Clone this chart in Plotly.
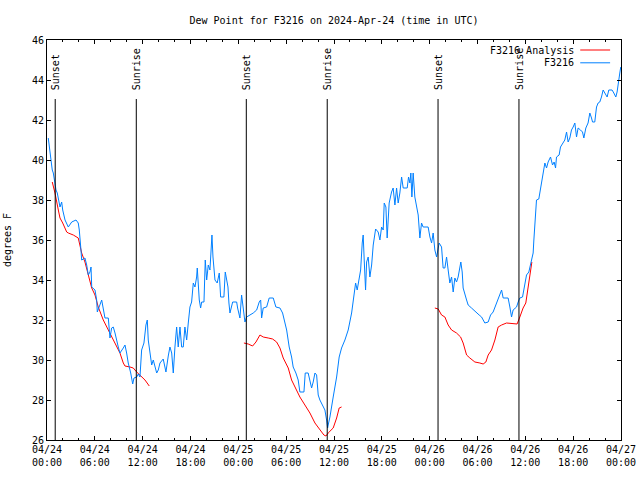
import pandas as pd
import plotly.graph_objects as go

# ---------------- data (hours since 2024-04-24 00:00 UTC, degrees F) ----------------
obs_hours = [
    0.16, 0.25, 0.38, 0.50, 0.66, 0.79, 1.00, 1.13, 1.29, 1.42, 1.63, 1.84, 1.97, 2.26, 2.67,
    3.10, 3.64, 3.92, 4.05, 4.26, 4.35, 4.76, 4.98, 5.18, 5.39, 5.52, 5.61, 6.02, 6.23, 6.31,
    6.56, 6.86, 7.27, 7.69, 7.90, 8.11, 8.31, 8.53, 8.94, 9.15, 9.57, 9.78, 9.99, 10.19, 10.50,
    10.75, 10.91, 11.25, 11.45, 11.66, 11.87, 12.16, 12.41, 12.58, 12.70, 12.92, 13.13, 13.33,
    13.54, 13.76, 13.96, 14.17, 14.58, 14.92, 15.21, 15.42, 15.64, 15.84, 16.05, 16.26, 16.46,
    16.68, 16.89, 17.09, 17.30, 17.52, 17.72, 17.93, 18.14, 18.35, 18.56, 18.77, 18.85, 18.97,
    19.10, 19.27, 19.40, 19.69, 19.85, 20.03, 20.23, 20.44, 20.56, 20.69, 20.82, 21.07, 21.35,
    21.61, 21.78, 22.19, 22.36, 22.53, 22.70, 22.82, 22.95, 23.29, 23.79, 23.91, 24.20, 24.41,
    24.54, 24.83, 25.04, 25.87, 26.30, 26.62, 26.80, 26.92, 27.12, 27.55, 27.87, 28.38, 28.71,
    29.22, 29.55, 29.84, 30.06, 30.38, 30.68, 30.88, 31.22, 31.51, 31.72, 32.23, 32.39, 32.76,
    32.98, 33.19, 33.39, 33.61, 33.82, 34.02, 34.23, 34.57, 34.86, 35.07, 35.20, 35.32, 35.49,
    35.90, 36.33, 36.65, 36.95, 37.37, 37.78, 38.21, 38.50, 38.71, 38.91, 39.16, 39.34, 39.54,
    39.66, 39.79, 39.96, 40.09, 40.29, 40.50, 40.72, 40.92, 41.22, 41.54, 41.76, 41.97, 42.17,
    42.30, 42.51, 42.67, 42.92, 43.22, 43.42, 43.64, 43.85, 44.05, 44.26, 44.48, 44.68, 45.18,
    45.35, 45.52, 45.64, 45.77, 45.93, 46.14, 46.36, 46.56, 46.77, 46.98, 47.18, 47.81, 48.03,
    48.24, 48.44, 48.65, 48.87, 49.19, 49.49, 49.69, 49.91, 50.12, 50.32, 50.53, 50.75, 50.95,
    51.16, 51.37, 51.57, 51.79, 51.91, 52.08, 52.20, 52.63, 52.83, 53.25, 53.88, 54.21, 54.51,
    54.92, 55.34, 55.64, 55.96, 56.39, 56.68, 56.89, 57.02, 57.22, 57.84, 58.06, 58.27, 58.47,
    58.90, 59.10, 59.31, 59.65, 59.94, 60.15, 60.44, 60.69, 60.98, 61.07, 61.28, 61.40, 61.69,
    61.82, 62.03, 62.23, 62.45, 62.66, 62.86, 63.16, 63.41, 63.61, 63.79, 63.91, 64.24, 64.41,
    64.74, 64.95, 65.17, 65.37, 65.58, 65.79, 66.00, 66.21, 66.42, 66.62, 66.92, 67.17, 67.34,
    67.59, 67.87, 68.09, 68.30, 68.43, 68.71, 68.93, 69.13, 69.34, 69.55, 69.76, 69.97, 70.26,
    70.47, 70.88, 71.10, 71.35, 71.51, 71.64, 71.85, 71.97,
]
obs_values = [
    41.1, 40.75, 40.25, 39.9, 39.5, 39.35, 38.85, 38.5, 38.35, 38.0, 37.65, 37.9, 37.5, 37.0, 36.65,
    36.9, 37.0, 36.85, 36.5, 35.5, 35.0, 35.1, 34.75, 34.25, 34.4, 34.65, 33.65, 33.5, 33.0, 32.4,
    32.65, 33.0, 32.1, 32.1, 31.1, 31.6, 31.65, 31.35, 30.65, 30.35, 30.6, 30.75, 30.35, 29.85, 29.35,
    28.8, 29.1, 29.15, 29.3, 29.15, 30.5, 30.85, 31.75, 32.0, 31.0, 30.2, 29.75, 30.0,
    29.65, 29.35, 29.5, 29.85, 30.05, 29.4, 30.2, 30.65, 30.35, 29.35, 30.65, 31.65, 30.65,
    31.65, 30.65, 30.65, 31.65, 31.0, 31.85, 32.65, 32.9, 33.85, 33.65, 34.15, 34.6, 33.75,
    33.0, 32.6, 32.9, 32.9, 35.0, 34.0, 34.75, 34.5, 35.65, 36.25, 35.15, 34.0, 33.85,
    34.35, 33.15, 33.15, 34.4, 34.0, 33.65, 32.85, 32.35, 32.9, 32.9, 32.6, 32.1, 33.25,
    32.85, 31.9, 32.15, 32.35, 32.5, 32.9, 33.0, 32.1, 32.6, 32.65, 33.1, 33.1, 32.65,
    32.6, 32.35, 31.9, 31.5, 30.65, 30.15, 29.65, 29.35, 29.0, 28.4, 28.4, 29.35, 29.35,
    29.0, 28.6, 28.9, 29.35, 29.25, 28.25, 28.0, 27.75, 27.5, 27.0, 26.6, 26.85, 27.15,
    28.15, 29.15, 30.15, 30.6, 31.0, 31.5, 32.35, 33.15, 33.85, 33.5, 34.0, 34.5, 35.85,
    36.25, 35.0, 33.5, 34.9, 35.15, 34.15, 34.75, 35.75, 36.55, 36.4, 36.0, 36.65, 36.5,
    37.85, 37.65, 36.1, 37.85, 38.4, 38.6, 37.75, 38.6, 37.85, 38.35, 39.15, 38.6, 38.6,
    39.15, 38.85, 39.35, 38.15, 39.35, 38.15, 37.75, 37.25, 36.1, 36.85, 36.65, 36.65, 36.15,
    35.85, 36.35, 35.5, 35.15, 35.85, 35.65, 34.6, 34.6, 35.15, 34.5, 33.85, 34.15, 33.4,
    34.1, 33.9, 34.15, 34.65, 34.9, 34.4, 33.6, 33.0, 32.75, 32.6, 32.4, 32.25, 32.15,
    31.85, 31.9, 32.25, 32.4, 32.85, 33.1, 33.4, 33.5, 33.1, 33.1, 32.65, 32.15, 32.5,
    32.65, 32.9, 33.1, 33.15, 33.9, 34.25, 34.4, 34.9, 35.35, 36.0, 37.15, 38.0, 38.05,
    38.35, 38.85, 39.35, 39.85, 39.6, 39.9, 40.15, 39.75, 39.9, 39.6, 40.15, 40.25, 40.65,
    40.9, 41.0, 41.4, 40.9, 41.1, 41.5, 41.65, 41.85, 41.15, 41.6, 41.5, 41.4, 41.1,
    41.6, 41.85, 42.35, 42.1, 41.9, 41.9, 42.65, 42.85, 42.9, 43.15, 43.5, 43.35, 43.15,
    43.5, 43.5, 43.35, 43.15, 43.4, 43.85, 44.35, 44.65,
]

analysis_day1_hours = [0.66, 1.00, 1.42, 1.63, 1.97, 2.47, 2.67, 3.30, 3.92, 4.14, 4.35, 4.76, 5.18,
                       5.61, 6.02, 6.43, 7.06, 7.90, 8.53, 9.15, 9.57, 9.78, 10.41, 10.82, 11.25,
                       11.87, 12.29, 12.83]
analysis_day1_values = [38.9, 38.35, 37.5, 37.1, 36.85, 36.4, 36.35, 36.25, 36.1, 35.75, 35.35, 34.9,
                        34.25, 33.6, 33.25, 32.65, 32.0, 31.35, 30.85, 30.35, 29.85, 29.7, 29.65,
                        29.6, 29.4, 29.15, 29.0, 28.7]
analysis_day2_hours = [24.70, 25.24, 25.79, 26.21, 26.71, 27.12, 27.75, 28.30, 28.80, 29.22, 29.63,
                       30.26, 30.68, 31.10, 31.72, 32.35, 32.98, 33.61, 34.23, 34.73, 34.99, 35.27,
                       35.90, 36.33, 36.65, 36.95]
analysis_day2_values = [30.85, 30.8, 30.7, 30.9, 31.25, 31.15, 31.1, 31.05, 30.9, 30.6, 30.1, 29.6,
                        29.0, 28.65, 28.15, 27.75, 27.35, 26.85, 26.5, 26.25, 26.2, 26.35, 26.6,
                        27.1, 27.6, 27.65]
analysis_day3_hours = [48.65, 49.07, 49.49, 49.91, 50.32, 50.75, 51.37, 51.88, 52.20, 52.63, 53.04,
                       53.67, 54.30, 54.71, 55.05, 55.34, 55.76, 56.18, 56.59, 57.02, 57.64, 58.40,
                       58.97, 59.31, 59.72, 60.06, 60.35, 60.56, 60.82]
analysis_day3_values = [32.6, 32.55, 32.25, 32.15, 31.75, 31.5, 31.35, 31.15, 30.85, 30.25, 30.1,
                        29.9, 29.85, 29.8, 29.9, 30.25, 30.5, 31.0, 31.65, 31.75, 31.85, 31.8,
                        31.8, 32.15, 32.6, 32.85, 33.6, 34.35, 34.9]

sun_event_hours = [1.03, 11.20, 25.00, 35.15, 49.05, 59.20]
sun_event_labels = ["Sunset", "Sunrise", "Sunset", "Sunrise", "Sunset", "Sunrise"]

title_text = "Dew Point for F3216 on 2024-Apr-24 (time in UTC)"
y_title = "degrees F"
series_names = ["F3216 Analysis", "F3216"]
series_colors = ["#ff0000", "#0080ff"]

# ---------------- build ----------------
base = pd.Timestamp("2024-04-24 00:00")


def to_time(hours):
    return [None if h is None else base + pd.Timedelta(hours=h) for h in hours]


red_h, red_v = [], []
for hs, vs in [(analysis_day1_hours, analysis_day1_values),
               (analysis_day2_hours, analysis_day2_values),
               (analysis_day3_hours, analysis_day3_values)]:
    if red_h:
        red_h.append(None)
        red_v.append(None)
    red_h += hs
    red_v += vs

FONT = "DejaVu Sans Mono"

fig = go.Figure()
fig.add_trace(go.Scatter(x=to_time(red_h), y=red_v, mode="lines", name=series_names[0],
                         line=dict(color=series_colors[0], width=1), connectgaps=False,
                         showlegend=False))
fig.add_trace(go.Scatter(x=to_time(obs_hours), y=obs_values, mode="lines", name=series_names[1],
                         line=dict(color=series_colors[1], width=1), showlegend=False))

# sunrise / sunset markers
for h, lab in zip(sun_event_hours, sun_event_labels):
    t = base + pd.Timedelta(hours=h)
    fig.add_shape(type="line", xref="x", yref="y", x0=t, x1=t, y0=26, y1=43.05,
                  line=dict(color="black", width=1))
    fig.add_annotation(x=t, y=43.4, xref="x", yref="y", text=lab, textangle=-90,
                       showarrow=False, xanchor="center", yanchor="bottom",
                       font=dict(family=FONT, size=10, color="black"))

# gnuplot-style key: text then line sample
for i, (name, col) in enumerate(zip(series_names, series_colors)):
    yp = 0.975 - i * 0.032
    fig.add_annotation(x=0.921, y=yp, xref="paper", yref="paper", text=name, showarrow=False,
                       xanchor="right", yanchor="middle",
                       font=dict(family=FONT, size=10, color="black"))
    fig.add_shape(type="line", xref="paper", yref="paper", x0=0.929, x1=0.981, y0=yp, y1=yp,
                  line=dict(color=col, width=1))

tick_times = [base + pd.Timedelta(hours=6 * k) for k in range(13)]
tick_text = [t.strftime("%m/%d") + "<br>" + t.strftime("%H:%M") for t in tick_times]

fig.update_layout(
    width=640, height=480,
    margin=dict(l=47, r=19, t=40, b=40),
    paper_bgcolor="white", plot_bgcolor="white",
    font=dict(family=FONT, size=10, color="black"),
    title=dict(text=title_text, x=0.5, xref="paper", y=0.958, yanchor="middle",
               font=dict(family=FONT, size=10, color="black")),
    showlegend=False,
)
fig.update_xaxes(
    type="date", automargin=False,
    range=[base, base + pd.Timedelta(hours=72)],
    tickvals=tick_times, ticktext=tick_text,
    ticks="inside", ticklen=4, tickcolor="black", tickwidth=1,
    minor=dict(dtick=2 * 3600 * 1000, tick0=base, ticks="inside", ticklen=2, tickcolor="black"),
    showgrid=False, zeroline=False,
    showline=True, linecolor="black", linewidth=1, mirror="ticks",
    tickfont=dict(family=FONT, size=10, color="black"),
)
fig.update_yaxes(
    range=[26, 46], dtick=2, tick0=26, automargin=False,
    ticks="inside", ticklen=4, tickcolor="black", tickwidth=1,
    showgrid=False, zeroline=False,
    showline=True, linecolor="black", linewidth=1, mirror="ticks",
    tickfont=dict(family=FONT, size=10, color="black"),
    title=dict(text=y_title, standoff=18, font=dict(family=FONT, size=10, color="black")),
)

fig.write_html("out.html", config={"displayModeBar": False},
               post_script="document.body.style.margin='0px';")
